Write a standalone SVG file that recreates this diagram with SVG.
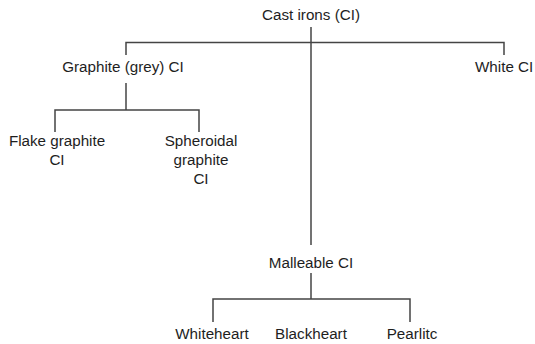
<svg xmlns="http://www.w3.org/2000/svg" width="535" height="344" viewBox="0 0 535 344">
<style>
text{font-family:"Liberation Sans",Arial,sans-serif;font-size:15.2px;fill:#1e1e1e;text-anchor:middle}
.c line,.c path{stroke:#444;stroke-width:1.5;fill:none}
</style>
<rect width="535" height="344" fill="#fff"/>
<g class="c" id="connectors">
<line x1="311" y1="27" x2="311" y2="245"/>
<path d="M126 55V42.5H504V55"/>
<line x1="126" y1="83" x2="126" y2="110"/>
<path d="M55 132V110H199V132"/>
<line x1="311" y1="273" x2="311" y2="299"/>
<path d="M213 322V299H410V322"/>
</g>
<g id="root"><text x="311" y="20">Cast irons (CI)</text></g>
<g id="graphite"><text x="123" y="72">Graphite (grey) CI</text></g>
<g id="white"><text x="475" y="72" style="text-anchor:start">White CI</text></g>
<g id="flake"><text x="57" y="146">Flake graphite</text><text x="57" y="165">CI</text></g>
<g id="spheroidal"><text x="201" y="146">Spheroidal</text><text x="201" y="165">graphite</text><text x="201" y="184">CI</text></g>
<g id="malleable"><text x="311" y="268">Malleable CI</text></g>
<g id="whiteheart"><text x="212" y="339">Whiteheart</text></g>
<g id="blackheart"><text x="311" y="339">Blackheart</text></g>
<g id="pearlitc"><text x="412" y="339">Pearlitc</text></g>
</svg>
